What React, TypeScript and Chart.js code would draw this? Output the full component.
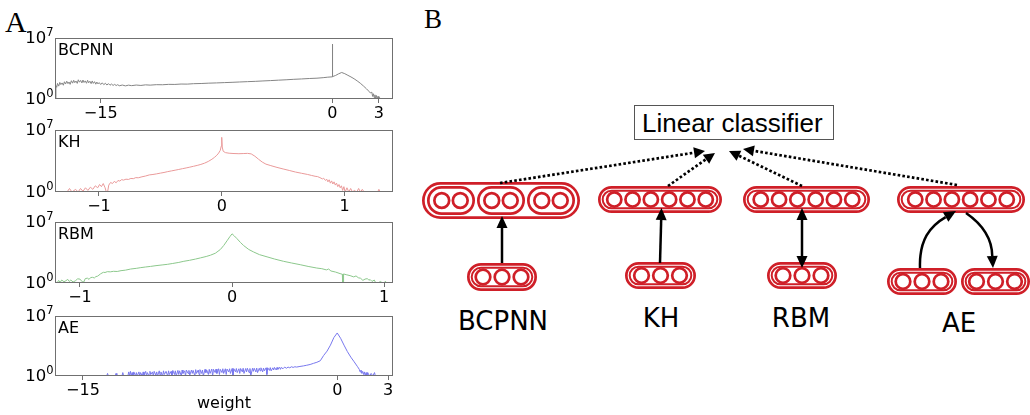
import React, { useEffect, useRef } from "react";
import { Chart, registerables } from "chart.js";

Chart.register(...registerables);

// ---------- data: [weight, count] histogram points ----------
const bcpnnHist: [number, number][] = [
  [-17.95, 1], [-17.9, 35], [-17.85, 22], [-17.8, 62], [-17.72, 30], [-17.65, 80], [-17.58, 45], [-17.5, 70],
  [-17.42, 38], [-17.35, 95], [-17.28, 52], [-17.2, 110], [-17.12, 58], [-17.05, 90], [-16.98, 48], [-16.9, 125],
  [-16.82, 66], [-16.75, 140], [-16.68, 75], [-16.6, 115], [-16.52, 62], [-16.45, 160], [-16.38, 85], [-16.3, 135],
  [-16.22, 70], [-16.15, 150], [-16.08, 78], [-16.0, 120], [-15.92, 64], [-15.85, 140], [-15.78, 72], [-15.7, 110],
  [-15.62, 58], [-15.55, 118], [-15.48, 62], [-15.4, 98], [-15.32, 50], [-15.25, 88], [-15.18, 54], [-15.1, 76],
  [-15.0, 46], [-14.9, 72], [-14.8, 44], [-14.7, 64], [-14.6, 40], [-14.5, 58], [-14.4, 38], [-14.3, 52],
  [-14.2, 36], [-14.1, 48], [-14.0, 35], [-13.9, 44], [-13.8, 33], [-13.6, 40], [-13.4, 32], [-13.2, 39],
  [-13.0, 34], [-12.7, 40], [-12.4, 36], [-12.1, 42], [-11.8, 39], [-11.4, 44], [-11.0, 43], [-10.6, 48],
  [-10.2, 47], [-9.8, 52], [-9.4, 51], [-9.0, 57], [-8.5, 60], [-8.0, 66], [-7.5, 70], [-7.0, 76],
  [-6.5, 82], [-6.0, 90], [-5.5, 98], [-5.0, 106], [-4.5, 118], [-4.0, 130], [-3.5, 145], [-3.0, 160],
  [-2.5, 182], [-2.0, 200], [-1.5, 225], [-1.0, 245], [-0.6, 280], [-0.3, 320], [-0.01, 350], [0, 2000000],
  [0.01, 370], [0.2, 500], [0.4, 780], [0.6, 1100], [0.8, 800], [1.0, 520], [1.2, 340], [1.4, 210],
  [1.6, 120], [1.8, 65], [2.0, 32], [2.2, 15], [2.35, 8], [2.45, 5], [2.55, 6], [2.6, 2],
  [2.65, 4], [2.7, 1.5], [2.75, 3], [2.8, 1], [2.85, 2.5], [2.9, 1], [2.95, 2], [3.0, 1], [3.05, 1.5], [3.1, 1],
];

const khHist: [number, number][] = [
  [-1.3, 1], [-1.26, 1], [-1.24, 2.5], [-1.22, 1], [-1.19, 2], [-1.17, 1], [-1.15, 2.5], [-1.13, 1.2],
  [-1.11, 3], [-1.09, 1.5], [-1.07, 3.5], [-1.05, 2], [-1.03, 5], [-1.01, 3], [-0.995, 7], [-0.98, 4],
  [-0.965, 9], [-0.95, 3], [-0.94, 1], [-0.93, 1], [-0.92, 6], [-0.905, 12], [-0.89, 9], [-0.875, 16],
  [-0.86, 11], [-0.845, 20], [-0.83, 17], [-0.815, 25], [-0.8, 22], [-0.78, 28], [-0.76, 26], [-0.74, 34],
  [-0.72, 32], [-0.7, 42], [-0.68, 40], [-0.65, 52], [-0.62, 64], [-0.59, 85], [-0.56, 95], [-0.53, 112],
  [-0.5, 135], [-0.47, 160], [-0.44, 200], [-0.41, 240], [-0.38, 290], [-0.35, 350], [-0.32, 430], [-0.29, 520],
  [-0.26, 640], [-0.23, 800], [-0.2, 1000], [-0.17, 1300], [-0.14, 1800], [-0.11, 2800], [-0.08, 5000], [-0.06, 8000],
  [-0.04, 14000], [-0.025, 25000], [-0.012, 50000], [-0.004, 150000], [0, 1500000], [0.004, 120000], [0.012, 40000], [0.03, 28000],
  [0.06, 24000], [0.1, 22000], [0.14, 21000], [0.18, 22000], [0.21, 23000], [0.24, 20000], [0.27, 11000], [0.3, 5000],
  [0.33, 2400], [0.36, 1400], [0.4, 950], [0.45, 600], [0.5, 400], [0.55, 270], [0.6, 180], [0.65, 130],
  [0.7, 95], [0.73, 75], [0.76, 60], [0.78, 55], [0.8, 42], [0.82, 30], [0.83, 36], [0.845, 20],
  [0.855, 28], [0.865, 14], [0.875, 24], [0.885, 10], [0.895, 18], [0.905, 8], [0.915, 14], [0.925, 6],
  [0.935, 10], [0.945, 4], [0.955, 7], [0.965, 3], [0.975, 5], [0.985, 1.5], [0.995, 4], [1.005, 1],
  [1.02, 3], [1.035, 1], [1.05, 2.5], [1.065, 1], [1.08, 1.5], [1.1, 1], [1.115, 2.5], [1.13, 1],
  [1.145, 2], [1.16, 1], [1.27, 1], [1.28, 2], [1.29, 1],
];

const rbmHist: [number, number][] = [
  [-1.16, 1.5], [-1.15, 1], [-1.14, 2], [-1.13, 1.2], [-1.12, 2.2], [-1.105, 1.4], [-1.093, 1.8], [-1.08, 2.6],
  [-1.07, 1.5], [-1.06, 2.2], [-1.045, 1.3], [-1.03, 1.8], [-1.015, 3], [-1.0, 2.8], [-0.985, 1.4], [-0.975, 1.3],
  [-0.965, 3.2], [-0.951, 3.6], [-0.94, 2.6], [-0.93, 4.2], [-0.918, 4.5], [-0.905, 3.8], [-0.895, 5.5], [-0.885, 6],
  [-0.875, 8], [-0.865, 11], [-0.855, 14], [-0.845, 17], [-0.835, 16], [-0.82, 20], [-0.8, 19], [-0.78, 22],
  [-0.755, 21], [-0.73, 26], [-0.7, 30], [-0.667, 40], [-0.63, 48], [-0.6, 58], [-0.57, 68], [-0.536, 80],
  [-0.5, 98], [-0.46, 118], [-0.426, 138], [-0.39, 175], [-0.35, 230], [-0.317, 310], [-0.28, 400], [-0.24, 560],
  [-0.208, 760], [-0.17, 1100], [-0.142, 1550], [-0.11, 2600], [-0.077, 7000], [-0.055, 20000], [-0.033, 70000], [-0.015, 200000],
  [0, 440000], [0.015, 250000], [0.033, 120000], [0.055, 45000], [0.076, 20000], [0.11, 7000], [0.142, 3600], [0.18, 1800],
  [0.23, 1000], [0.28, 560], [0.338, 310], [0.39, 200], [0.448, 126], [0.5, 80], [0.557, 52], [0.59, 44],
  [0.62, 32], [0.635, 40], [0.65, 24], [0.68, 18], [0.71, 12], [0.725, 10], [0.727, 1], [0.731, 1],
  [0.733, 11], [0.75, 9], [0.776, 7], [0.8, 5], [0.815, 6.5], [0.83, 4], [0.845, 3.5], [0.86, 2],
  [0.874, 2.8], [0.89, 3.2], [0.9, 2], [0.907, 2.6], [0.92, 1.5], [0.935, 2.2], [0.945, 1], [0.96, 1],
  [0.975, 1.5], [0.99, 1], [1.0, 1], [1.008, 1.6], [1.016, 1],
];

const aeHist: [number, number][] = [
  [-13.6, 1], [-13.55, 2], [-13.5, 1], [-13.1, 1], [-13.05, 2], [-13.0, 1], [-12.7, 1], [-12.65, 2.5],
  [-12.6, 1], [-12.35, 1], [-12.3, 3], [-12.25, 1], [-12.2, 3.5], [-12.15, 1], [-12.1, 2.5], [-12.05, 1],
  [-12.0, 3], [-11.9, 1], [-11.85, 2.5], [-11.8, 1], [-11.7, 3], [-11.65, 1], [-11.6, 2.5], [-11.5, 1],
  [-11.45, 3], [-11.4, 1.2], [-11.3, 3.5], [-11.25, 1], [-11.2, 2.5], [-11.1, 1], [-11.05, 3.5], [-11.0, 1.5],
  [-10.9, 3], [-10.85, 1], [-10.8, 3.5], [-10.7, 1.2], [-10.65, 3], [-10.6, 1], [-10.5, 4], [-10.45, 1.3],
  [-10.4, 3], [-10.3, 1], [-10.25, 4], [-10.2, 1.5], [-10.1, 3.5], [-10.0, 1], [-9.95, 4], [-9.9, 1.5],
  [-9.8, 3.5], [-9.75, 1], [-9.7, 4.5], [-9.6, 1.5], [-9.55, 4], [-9.5, 1], [-9.4, 4.5], [-9.35, 1.5],
  [-9.3, 4], [-9.2, 1], [-9.15, 5], [-9.1, 2], [-9.0, 4], [-8.95, 1], [-8.9, 5], [-8.8, 2],
  [-8.75, 4.5], [-8.7, 1.2], [-8.6, 5], [-8.55, 2], [-8.5, 4.5], [-8.4, 1], [-8.35, 5.5], [-8.3, 2],
  [-8.2, 5], [-8.15, 1.5], [-8.1, 5.5], [-8.0, 2], [-7.95, 5], [-7.9, 1], [-7.8, 6], [-7.75, 2.5],
  [-7.7, 5], [-7.6, 1.5], [-7.55, 6], [-7.5, 2], [-7.4, 6.5], [-7.35, 1], [-7.3, 6], [-7.2, 2.5],
  [-7.15, 6.5], [-7.1, 2], [-7.0, 7], [-6.95, 1.5], [-6.9, 6], [-6.8, 2.5], [-6.75, 7], [-6.7, 2],
  [-6.6, 7], [-6.55, 1.5], [-6.5, 6.5], [-6.4, 3], [-6.35, 7], [-6.3, 2], [-6.2, 7.5], [-6.15, 1],
  [-6.1, 7], [-6.0, 3], [-5.95, 7.5], [-5.9, 2.5], [-5.8, 7], [-5.75, 2], [-5.7, 7.5], [-5.6, 3],
  [-5.55, 8], [-5.5, 2], [-5.4, 7.5], [-5.35, 3], [-5.3, 8], [-5.2, 2.5], [-5.15, 7.5], [-5.1, 1],
  [-5.0, 8], [-4.95, 3.5], [-4.9, 8], [-4.8, 3], [-4.75, 8.5], [-4.7, 2.5], [-4.6, 8], [-4.55, 4],
  [-4.5, 9], [-4.4, 3], [-4.35, 8.5], [-4.3, 4], [-4.2, 9], [-4.15, 1.5], [-4.1, 9], [-4.0, 4.5],
  [-3.95, 9.5], [-3.9, 4], [-3.8, 9], [-3.75, 5], [-3.7, 10], [-3.6, 5], [-3.55, 10], [-3.5, 6],
  [-3.4, 10.5], [-3.35, 6], [-3.3, 10], [-3.2, 7], [-3.1, 11], [-3.0, 8], [-2.9, 11], [-2.8, 9],
  [-2.7, 12], [-2.6, 10], [-2.5, 12], [-2.4, 11], [-2.2, 13], [-2.0, 15], [-1.8, 18], [-1.6, 22],
  [-1.4, 30], [-1.2, 40], [-1.0, 60], [-0.8, 250], [-0.6, 800], [-0.4, 4000], [-0.2, 30000], [0, 105000],
  [0.2, 25000], [0.4, 4000], [0.6, 700], [0.8, 160], [1.0, 45], [1.2, 12], [1.3, 6], [1.35, 3],
  [1.4, 5], [1.45, 2], [1.5, 3.5], [1.55, 1.5], [1.6, 3], [1.65, 1], [1.7, 2.5], [1.75, 1],
  [1.8, 2.5], [1.9, 1], [2.0, 2], [2.1, 1], [2.2, 2.5], [2.25, 1],
];

// tick values
const bcpnnTicks = [-15, 0, 3];
const khTicks = [-1, 0, 1];
const rbmTicks = [-1, 0, 1];
const aeTicks = [-15, 0, 3];
const yTickValues = [1, 1e7];
const yTickExponents = ["0", "7"];

// ---------- panel layout ----------
type Panel = {
  name: string;
  hist: [number, number][];
  ticks: number[];
  min: number;
  max: number;
  color: string;
  top: number;
  height: number;
  xTitle?: string;
};

const panels: Panel[] = [
  { name: "BCPNN", hist: bcpnnHist, ticks: bcpnnTicks, min: -17.96, max: 3.92, color: "#858585", top: 38, height: 61 },
  { name: "KH", hist: khHist, ticks: khTicks, min: -1.358, max: 1.395, color: "#ea9a9a", top: 130, height: 62 },
  { name: "RBM", hist: rbmHist, ticks: rbmTicks, min: -1.164, max: 1.058, color: "#8cc88c", top: 222, height: 61 },
  { name: "AE", hist: aeHist, ticks: aeTicks, min: -16.65, max: 3.29, color: "#7878ee", top: 316, height: 60, xTitle: "weight" },
];

const FONT = '"DejaVu Sans", sans-serif';
const PAD_TOP = 12;

function fmtTick(v: number) {
  return v < 0 ? "\u2212" + Math.abs(v) : String(v);
}

function HistPanel({ p }: { p: Panel }) {
  const ref = useRef<HTMLCanvasElement>(null);
  const axisH = p.xTitle ? 48 : 26;
  const H = PAD_TOP + p.height + axisH;
  useEffect(() => {
    if (!ref.current) return;
    const decor = {
      id: "decor",
      afterDraw(chart: any) {
        const { ctx, chartArea: a } = chart;
        ctx.save();
        ctx.strokeStyle = "#707070";
        ctx.lineWidth = 1;
        ctx.strokeRect(Math.round(a.left) + 0.5, Math.round(a.top) + 0.5, Math.round(a.right - a.left) - 1, Math.round(a.bottom - a.top) - 1);
        ctx.fillStyle = "#000";
        const ys = chart.scales.y;
        yTickValues.forEach((v, i) => {
          const y = ys.getPixelForValue(v);
          ctx.font = `11.5px ${FONT}`;
          ctx.textAlign = "right";
          ctx.textBaseline = "middle";
          const supW = ctx.measureText(yTickExponents[i]).width;
          ctx.fillText(yTickExponents[i], a.left - 1.5, y - 5);
          ctx.font = `16.5px ${FONT}`;
          ctx.fillText("10", a.left - 1.5 - supW, y + 1);
        });
        ctx.font = `16px ${FONT}`;
        ctx.textAlign = "left";
        ctx.textBaseline = "alphabetic";
        ctx.fillText(p.name, a.left + 3, a.top + 17);
        if (p.xTitle) {
          ctx.textAlign = "center";
          ctx.fillText(p.xTitle, (a.left + a.right) / 2, a.bottom + 32);
        }
        ctx.restore();
      },
    };
    const chart = new Chart(ref.current, {
      type: "line",
      data: {
        datasets: [
          {
            data: p.hist.map(([w, c]) => ({ x: w, y: c })),
            borderColor: p.color,
            borderWidth: 1,
            pointRadius: 0,
            tension: 0,
            fill: false,
          },
        ],
      },
      options: {
        animation: false,
        responsive: false,
        maintainAspectRatio: false,
        layout: { padding: { top: PAD_TOP, right: 7, left: 0, bottom: 0 } },
        plugins: { legend: { display: false }, tooltip: { enabled: false } },
        scales: {
          x: {
            type: "linear",
            min: p.min,
            max: p.max,
            afterBuildTicks: (s: any) => {
              s.ticks = p.ticks.map((v) => ({ value: v }));
            },
            afterFit: (s: any) => {
              s.height = axisH;
            },
            grid: { display: true, drawOnChartArea: false, drawTicks: true, tickLength: 4, color: "#707070", tickColor: "#707070" },
            border: { display: false },
            ticks: {
              autoSkip: false,
              maxRotation: 0,
              padding: 1,
              color: "#000",
              font: { family: FONT, size: 16 },
              callback: (v: any) => fmtTick(Number(v)),
            },
          },
          y: {
            type: "logarithmic",
            min: 1,
            max: 1e7,
            afterBuildTicks: (s: any) => {
              s.ticks = yTickValues.map((v) => ({ value: v }));
            },
            afterFit: (s: any) => {
              s.width = 55;
            },
            grid: { display: false },
            border: { display: false },
            ticks: { display: false },
          },
        },
      } as any,
      plugins: [decor],
    });
    return () => chart.destroy();
  }, []);
  return (
    <canvas
      ref={ref}
      width={400}
      height={H}
      style={{ position: "absolute", left: 0, top: p.top - PAD_TOP, width: 400, height: H }}
    />
  );
}

// ---------- network diagram (panel B) ----------
const RED = "#cf1f28";
const SW_OUT = 2.7;
const SW_IN = 2.0;
const SW_C = 2.7;

function stadium(key: string, left: number, top: number, w: number, h: number, double: boolean) {
  const i1 = SW_OUT / 2;
  const i2 = 4.7;
  const out = [
    <rect key={key + "o"} x={left + i1} y={top + i1} width={w - 2 * i1} height={h - 2 * i1} rx={(h - 2 * i1) / 2} strokeWidth={SW_OUT} />,
  ];
  if (double)
    out.push(
      <rect key={key + "i"} x={left + i2} y={top + i2} width={w - 2 * i2} height={h - 2 * i2} rx={(h - 2 * i2) / 2} strokeWidth={SW_IN} />
    );
  return out;
}

function circles(key: string, cx: number, cy: number, n: number, spacing: number, r: number) {
  const out = [];
  for (let i = 0; i < n; i++) {
    out.push(<circle key={key + i} cx={cx + (i - (n - 1) / 2) * spacing} cy={cy} r={r} strokeWidth={SW_C} />);
  }
  return out;
}

function headPts(tx: number, ty: number, fx: number, fy: number, len: number, half: number) {
  const dx = tx - fx, dy = ty - fy;
  const d = Math.hypot(dx, dy);
  const ux = dx / d, uy = dy / d;
  const bx = tx - ux * len, by = ty - uy * len;
  return {
    pts: `${tx},${ty} ${bx - uy * half},${by + ux * half} ${bx + uy * half},${by - ux * half}`,
    bx,
    by,
  };
}

function Diagram() {
  const shapes: any[] = [];
  const sixGroups = [
    { k: "kh", left: 598, top: 186, w: 124, h: 27 },
    { k: "rbm", left: 743, top: 186, w: 127, h: 27 },
    { k: "ae", left: 897, top: 186, w: 128, h: 27 },
  ];
  sixGroups.forEach((g) => {
    shapes.push(...stadium(g.k, g.left, g.top, g.w, g.h, true));
    shapes.push(...circles(g.k + "c", g.left + g.w / 2, g.top + g.h / 2, 6, 18.3, 7.1));
  });
  // BCPNN top: outer + 3 sub-groups of 2
  shapes.push(...stadium("bt", 422, 182, 158, 37, false));
  [427, 477, 527].forEach((l, j) => {
    shapes.push(...stadium("bs" + j, l, 186, 48, 29, false));
    shapes.push(...circles("bsc" + j, l + 24, 200.5, 2, 18.5, 7.4));
  });
  const threeGroups = [
    { k: "b1", left: 467, top: 263, w: 70, h: 28 },
    { k: "b2", left: 625, top: 262, w: 71, h: 27 },
    { k: "b3", left: 767, top: 262, w: 70, h: 27 },
    { k: "b4", left: 887, top: 268, w: 70, h: 27 },
    { k: "b5", left: 961, top: 268, w: 69, h: 27 },
  ];
  threeGroups.forEach((g) => {
    shapes.push(...stadium(g.k, g.left, g.top, g.w, g.h, true));
    shapes.push(...circles(g.k + "c", g.left + g.w / 2, g.top + g.h / 2, 3, 19, 7.3));
  });

  const dotted = [
    { s: [500, 183], t: [705, 151] },
    { s: [668, 186], t: [715, 153] },
    { s: [802, 186], t: [729, 151] },
    { s: [957, 185], t: [743, 149] },
  ];
  const arrows: any[] = [];
  dotted.forEach((d, i) => {
    const h = headPts(d.t[0], d.t[1], d.s[0], d.s[1], 11, 5.5);
    arrows.push(
      <line key={"dl" + i} x1={d.s[0]} y1={d.s[1]} x2={h.bx} y2={h.by} stroke="#000" strokeWidth={2.7} strokeDasharray="2.6 2.2" />,
      <polygon key={"dh" + i} points={h.pts} fill="#000" />
    );
  });
  const solid = [
    { s: [502, 263], t: [502, 216] },
    { s: [660, 263], t: [661.5, 208] },
  ];
  solid.forEach((d, i) => {
    const h = headPts(d.t[0], d.t[1], d.s[0], d.s[1], 12, 5.5);
    arrows.push(
      <line key={"sl" + i} x1={d.s[0]} y1={d.s[1]} x2={h.bx} y2={h.by} stroke="#000" strokeWidth={2.5} />,
      <polygon key={"sh" + i} points={h.pts} fill="#000" />
    );
  });
  {
    const up = headPts(802, 208, 802, 268, 12, 5.5);
    const dn = headPts(802, 268, 802, 208, 12, 5.5);
    arrows.push(
      <line key="rl" x1={802} y1={up.by} x2={802} y2={dn.by} stroke="#000" strokeWidth={2.5} />,
      <polygon key="rh1" points={up.pts} fill="#000" />,
      <polygon key="rh2" points={dn.pts} fill="#000" />
    );
  }
  {
    const h1 = headPts(956, 211, 944, 218, 12, 5.5);
    arrows.push(
      <path key="ae1" d={`M 920 268 C 919 240, 930 226, ${h1.bx} ${h1.by}`} fill="none" stroke="#000" strokeWidth={2.5} />,
      <polygon key="ae1h" points={h1.pts} fill="#000" />
    );
    const h2 = headPts(993, 268, 992, 252, 12, 5.5);
    arrows.push(
      <path key="ae2" d={`M 966 213 C 982 224, 992 238, ${h2.bx} ${h2.by}`} fill="none" stroke="#000" strokeWidth={2.5} />,
      <polygon key="ae2h" points={h2.pts} fill="#000" />
    );
  }

  const labelStyle = { fontFamily: FONT, fontSize: 26, fill: "#000" } as any;
  return (
    <svg width={1030} height={415} style={{ position: "absolute", left: 0, top: 0 }}>
      <text x={5} y={32} style={{ fontFamily: '"Liberation Serif", serif', fontSize: 30 }} fill="#000">A</text>
      <text x={424} y={28} style={{ fontFamily: '"Liberation Serif", serif', fontSize: 27 }} fill="#000">B</text>
      <rect x={634.5} y={105.5} width={199} height={34} fill="#fff" stroke="#555" strokeWidth={1} />
      <text x={642} y={132} style={{ fontFamily: '"Liberation Sans", sans-serif', fontSize: 26 }} fill="#000">Linear classifier</text>
      <g fill="none" stroke={RED}>{shapes}</g>
      {arrows}
      <text x={503} y={330} textAnchor="middle" style={labelStyle}>BCPNN</text>
      <text x={661} y={327} textAnchor="middle" style={labelStyle}>KH</text>
      <text x={801} y={327} textAnchor="middle" style={labelStyle}>RBM</text>
      <text x={959} y={332} textAnchor="middle" style={labelStyle}>AE</text>
    </svg>
  );
}

export default function App() {
  return (
    <div style={{ position: "absolute", left: 0, top: 0, width: 1030, height: 415, overflow: "hidden", background: "#fff" }}>
      <Diagram />
      {panels.map((p) => (
        <HistPanel key={p.name} p={p} />
      ))}
    </div>
  );
}
